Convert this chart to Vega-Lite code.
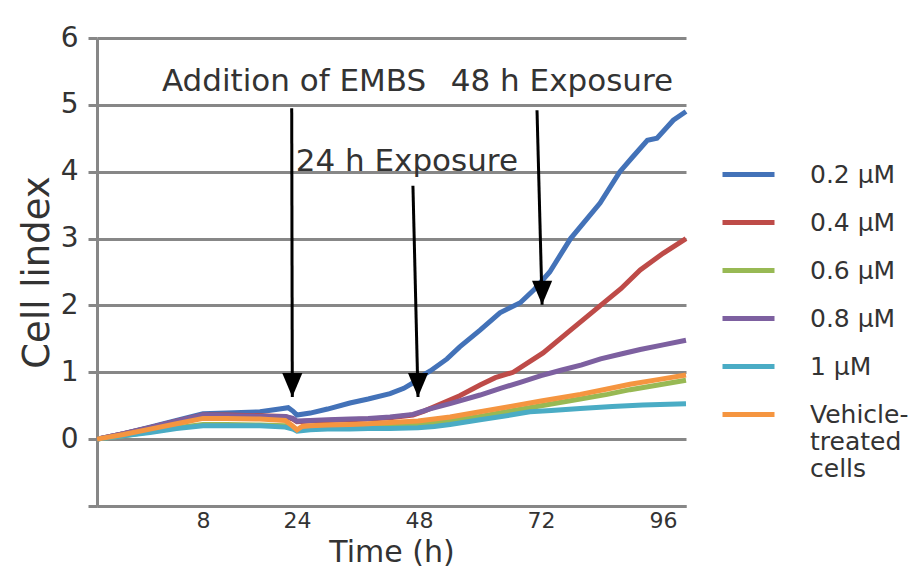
{
  "$schema": "https://vega.github.io/schema/vega-lite/v6.json",
  "width": 589,
  "height": 468,
  "autosize": {"type": "none"},
  "padding": {"left": 97, "top": 38, "right": 228, "bottom": 71},
  "background": "white",
  "config": {
    "font": "DejaVu Sans",
    "view": {"stroke": null},
    "axis": {
      "labelFont": "DejaVu Sans",
      "titleFont": "DejaVu Sans",
      "titleFontWeight": "normal",
      "labelColor": "#333333",
      "titleColor": "#333333",
      "domainColor": "#878787",
      "domainWidth": 3,
      "gridColor": "#878787",
      "gridWidth": 3,
      "gridOpacity": 1,
      "tickColor": "#878787",
      "tickWidth": 3
    }
  },
  "datasets": {
    "curves": [
      {"s": "0.2 μM", "t": 0, "v": 0}, {"s": "0.2 μM", "t": 2, "v": 0.08}, {"s": "0.2 μM", "t": 4, "v": 0.18}, {"s": "0.2 μM", "t": 6, "v": 0.28}, {"s": "0.2 μM", "t": 8, "v": 0.38}, {"s": "0.2 μM", "t": 12, "v": 0.39}, {"s": "0.2 μM", "t": 17.7, "v": 0.41}, {"s": "0.2 μM", "t": 21, "v": 0.45}, {"s": "0.2 μM", "t": 22.5, "v": 0.47}, {"s": "0.2 μM", "t": 23.3, "v": 0.42}, {"s": "0.2 μM", "t": 24, "v": 0.36}, {"s": "0.2 μM", "t": 26.6, "v": 0.39}, {"s": "0.2 μM", "t": 30, "v": 0.45}, {"s": "0.2 μM", "t": 34.4, "v": 0.54}, {"s": "0.2 μM", "t": 38, "v": 0.6}, {"s": "0.2 μM", "t": 42.3, "v": 0.68}, {"s": "0.2 μM", "t": 45, "v": 0.76}, {"s": "0.2 μM", "t": 46.8, "v": 0.84}, {"s": "0.2 μM", "t": 48.2, "v": 0.93}, {"s": "0.2 μM", "t": 50.2, "v": 1.02}, {"s": "0.2 μM", "t": 53.5, "v": 1.2}, {"s": "0.2 μM", "t": 56, "v": 1.38}, {"s": "0.2 μM", "t": 60, "v": 1.63}, {"s": "0.2 μM", "t": 63.9, "v": 1.89}, {"s": "0.2 μM", "t": 67.9, "v": 2.04}, {"s": "0.2 μM", "t": 70.8, "v": 2.25}, {"s": "0.2 μM", "t": 73.7, "v": 2.5}, {"s": "0.2 μM", "t": 77.8, "v": 3.0}, {"s": "0.2 μM", "t": 83.6, "v": 3.53}, {"s": "0.2 μM", "t": 87.5, "v": 4.0}, {"s": "0.2 μM", "t": 90, "v": 4.22}, {"s": "0.2 μM", "t": 92.9, "v": 4.47}, {"s": "0.2 μM", "t": 94.8, "v": 4.5}, {"s": "0.2 μM", "t": 98, "v": 4.77}, {"s": "0.2 μM", "t": 100.5, "v": 4.9},
      {"s": "0.4 μM", "t": 0, "v": 0}, {"s": "0.4 μM", "t": 2, "v": 0.08}, {"s": "0.4 μM", "t": 4, "v": 0.17}, {"s": "0.4 μM", "t": 6, "v": 0.27}, {"s": "0.4 μM", "t": 8, "v": 0.36}, {"s": "0.4 μM", "t": 12, "v": 0.36}, {"s": "0.4 μM", "t": 17.7, "v": 0.35}, {"s": "0.4 μM", "t": 22, "v": 0.34}, {"s": "0.4 μM", "t": 23.3, "v": 0.3}, {"s": "0.4 μM", "t": 24, "v": 0.26}, {"s": "0.4 μM", "t": 26.6, "v": 0.27}, {"s": "0.4 μM", "t": 30, "v": 0.28}, {"s": "0.4 μM", "t": 34.4, "v": 0.29}, {"s": "0.4 μM", "t": 38, "v": 0.3}, {"s": "0.4 μM", "t": 42.3, "v": 0.32}, {"s": "0.4 μM", "t": 46.8, "v": 0.36}, {"s": "0.4 μM", "t": 49, "v": 0.42}, {"s": "0.4 μM", "t": 52.1, "v": 0.52}, {"s": "0.4 μM", "t": 56, "v": 0.65}, {"s": "0.4 μM", "t": 60, "v": 0.81}, {"s": "0.4 μM", "t": 63, "v": 0.92}, {"s": "0.4 μM", "t": 66.5, "v": 1.0}, {"s": "0.4 μM", "t": 72.4, "v": 1.29}, {"s": "0.4 μM", "t": 77.8, "v": 1.63}, {"s": "0.4 μM", "t": 83.7, "v": 2.0}, {"s": "0.4 μM", "t": 87.7, "v": 2.25}, {"s": "0.4 μM", "t": 91.5, "v": 2.53}, {"s": "0.4 μM", "t": 96, "v": 2.78}, {"s": "0.4 μM", "t": 100.5, "v": 3.0},
      {"s": "0.6 μM", "t": 0, "v": 0}, {"s": "0.6 μM", "t": 2, "v": 0.05}, {"s": "0.6 μM", "t": 4, "v": 0.11}, {"s": "0.6 μM", "t": 6, "v": 0.17}, {"s": "0.6 μM", "t": 8, "v": 0.22}, {"s": "0.6 μM", "t": 12, "v": 0.22}, {"s": "0.6 μM", "t": 17.7, "v": 0.21}, {"s": "0.6 μM", "t": 22, "v": 0.2}, {"s": "0.6 μM", "t": 23.3, "v": 0.17}, {"s": "0.6 μM", "t": 24, "v": 0.14}, {"s": "0.6 μM", "t": 26.6, "v": 0.16}, {"s": "0.6 μM", "t": 30, "v": 0.17}, {"s": "0.6 μM", "t": 34.4, "v": 0.18}, {"s": "0.6 μM", "t": 38, "v": 0.19}, {"s": "0.6 μM", "t": 42.3, "v": 0.2}, {"s": "0.6 μM", "t": 47.8, "v": 0.22}, {"s": "0.6 μM", "t": 54.1, "v": 0.27}, {"s": "0.6 μM", "t": 60, "v": 0.34}, {"s": "0.6 μM", "t": 66, "v": 0.42}, {"s": "0.6 μM", "t": 72, "v": 0.5}, {"s": "0.6 μM", "t": 79.7, "v": 0.6}, {"s": "0.6 μM", "t": 85, "v": 0.67}, {"s": "0.6 μM", "t": 89.5, "v": 0.74}, {"s": "0.6 μM", "t": 95, "v": 0.81}, {"s": "0.6 μM", "t": 100.5, "v": 0.88},
      {"s": "0.8 μM", "t": 0, "v": 0}, {"s": "0.8 μM", "t": 2, "v": 0.08}, {"s": "0.8 μM", "t": 4, "v": 0.17}, {"s": "0.8 μM", "t": 6, "v": 0.27}, {"s": "0.8 μM", "t": 8, "v": 0.36}, {"s": "0.8 μM", "t": 12, "v": 0.35}, {"s": "0.8 μM", "t": 17.7, "v": 0.34}, {"s": "0.8 μM", "t": 22, "v": 0.34}, {"s": "0.8 μM", "t": 23.3, "v": 0.31}, {"s": "0.8 μM", "t": 24, "v": 0.27}, {"s": "0.8 μM", "t": 26.6, "v": 0.28}, {"s": "0.8 μM", "t": 30, "v": 0.29}, {"s": "0.8 μM", "t": 34.4, "v": 0.3}, {"s": "0.8 μM", "t": 38, "v": 0.31}, {"s": "0.8 μM", "t": 42.3, "v": 0.33}, {"s": "0.8 μM", "t": 46.8, "v": 0.37}, {"s": "0.8 μM", "t": 50, "v": 0.45}, {"s": "0.8 μM", "t": 54.1, "v": 0.53}, {"s": "0.8 μM", "t": 60, "v": 0.66}, {"s": "0.8 μM", "t": 64, "v": 0.76}, {"s": "0.8 μM", "t": 67.9, "v": 0.85}, {"s": "0.8 μM", "t": 72, "v": 0.95}, {"s": "0.8 μM", "t": 75.9, "v": 1.03}, {"s": "0.8 μM", "t": 80, "v": 1.11}, {"s": "0.8 μM", "t": 83.7, "v": 1.2}, {"s": "0.8 μM", "t": 87.5, "v": 1.27}, {"s": "0.8 μM", "t": 91.5, "v": 1.34}, {"s": "0.8 μM", "t": 96, "v": 1.41}, {"s": "0.8 μM", "t": 100.5, "v": 1.48},
      {"s": "1 μM", "t": 0, "v": 0}, {"s": "1 μM", "t": 2, "v": 0.05}, {"s": "1 μM", "t": 4, "v": 0.1}, {"s": "1 μM", "t": 6, "v": 0.16}, {"s": "1 μM", "t": 8, "v": 0.2}, {"s": "1 μM", "t": 12, "v": 0.2}, {"s": "1 μM", "t": 17.7, "v": 0.2}, {"s": "1 μM", "t": 22, "v": 0.18}, {"s": "1 μM", "t": 23.3, "v": 0.15}, {"s": "1 μM", "t": 24, "v": 0.12}, {"s": "1 μM", "t": 26.6, "v": 0.14}, {"s": "1 μM", "t": 30, "v": 0.15}, {"s": "1 μM", "t": 34.4, "v": 0.15}, {"s": "1 μM", "t": 38, "v": 0.16}, {"s": "1 μM", "t": 42.3, "v": 0.16}, {"s": "1 μM", "t": 47.8, "v": 0.17}, {"s": "1 μM", "t": 51, "v": 0.19}, {"s": "1 μM", "t": 54.1, "v": 0.22}, {"s": "1 μM", "t": 60, "v": 0.29}, {"s": "1 μM", "t": 66, "v": 0.36}, {"s": "1 μM", "t": 69.8, "v": 0.41}, {"s": "1 μM", "t": 74, "v": 0.43}, {"s": "1 μM", "t": 79.7, "v": 0.46}, {"s": "1 μM", "t": 86, "v": 0.49}, {"s": "1 μM", "t": 92, "v": 0.51}, {"s": "1 μM", "t": 100.5, "v": 0.53},
      {"s": "Vehicle-treated cells", "t": 0, "v": 0}, {"s": "Vehicle-treated cells", "t": 2, "v": 0.07}, {"s": "Vehicle-treated cells", "t": 4, "v": 0.15}, {"s": "Vehicle-treated cells", "t": 6, "v": 0.23}, {"s": "Vehicle-treated cells", "t": 8, "v": 0.31}, {"s": "Vehicle-treated cells", "t": 12, "v": 0.31}, {"s": "Vehicle-treated cells", "t": 17.7, "v": 0.3}, {"s": "Vehicle-treated cells", "t": 22, "v": 0.28}, {"s": "Vehicle-treated cells", "t": 23.2, "v": 0.2}, {"s": "Vehicle-treated cells", "t": 24, "v": 0.14}, {"s": "Vehicle-treated cells", "t": 25, "v": 0.19}, {"s": "Vehicle-treated cells", "t": 26.6, "v": 0.2}, {"s": "Vehicle-treated cells", "t": 30, "v": 0.21}, {"s": "Vehicle-treated cells", "t": 34.4, "v": 0.22}, {"s": "Vehicle-treated cells", "t": 38, "v": 0.23}, {"s": "Vehicle-treated cells", "t": 42.3, "v": 0.25}, {"s": "Vehicle-treated cells", "t": 47.8, "v": 0.27}, {"s": "Vehicle-treated cells", "t": 54.1, "v": 0.33}, {"s": "Vehicle-treated cells", "t": 60, "v": 0.41}, {"s": "Vehicle-treated cells", "t": 66, "v": 0.49}, {"s": "Vehicle-treated cells", "t": 72, "v": 0.57}, {"s": "Vehicle-treated cells", "t": 79.7, "v": 0.67}, {"s": "Vehicle-treated cells", "t": 85, "v": 0.75}, {"s": "Vehicle-treated cells", "t": 89.5, "v": 0.82}, {"s": "Vehicle-treated cells", "t": 95, "v": 0.89}, {"s": "Vehicle-treated cells", "t": 100.5, "v": 0.96}
    ],
    "arrows": [
      {"t": 23.1, "v": 4.95, "t2": 23.2, "v2": 0.63},
      {"t": 46.8, "v": 3.79, "t2": 47.8, "v2": 0.63},
      {"t": 71.2, "v": 4.92, "t2": 72.2, "v2": 2.01}
    ],
    "heads": [
      {"t": 23.2, "v": 0.63},
      {"t": 47.8, "v": 0.63},
      {"t": 72.2, "v": 2.01}
    ],
    "notes": [
      {"label": "Addition of EMBS", "t": 23.5, "v": 5.34},
      {"label": "48 h Exposure", "t": 76.1, "v": 5.34},
      {"label": "24 h Exposure", "t": 45.6, "v": 4.145}
    ]
  },
  "encoding": {
    "x": {
      "field": "t",
      "type": "quantitative",
      "scale": {"domain": [0, 8, 24, 100.5], "range": [0, 106, 200, 589], "nice": false, "zero": false},
      "axis": {
        "values": [8, 24, 48, 72, 96],
        "grid": false,
        "ticks": false,
        "labelFontSize": 22,
        "labelPadding": 4,
        "labelFlush": false,
        "labelOverlap": false,
        "title": "Time (h)",
        "titleFontSize": 30,
        "titlePadding": 6
      }
    },
    "y": {
      "field": "v",
      "type": "quantitative",
      "scale": {"domain": [-1, 6], "nice": false, "zero": false},
      "axis": {
        "values": [-1, 0, 1, 2, 3, 4, 5, 6],
        "labelExpr": "datum.value < 0 ? '' : datum.label",
        "tickSize": 9,
        "labelFontSize": 28,
        "labelPadding": 10,
        "labelFlush": false,
        "title": "Cell lindex",
        "titleFontSize": 37,
        "titlePadding": 4
      }
    }
  },
  "layer": [
    {
      "data": {"name": "curves"},
      "mark": {"type": "line", "strokeWidth": 5},
      "encoding": {
        "color": {
          "field": "s",
          "type": "nominal",
          "scale": {
            "domain": ["0.2 μM", "0.4 μM", "0.6 μM", "0.8 μM", "1 μM", "Vehicle-treated cells"],
            "range": ["#4372B8", "#BE4B48", "#98B954", "#7D60A0", "#4AACC5", "#F59540"]
          },
          "legend": {
            "title": null,
            "orient": "none",
            "legendX": 636,
            "legendY": 121,
            "padding": 0,
            "symbolType": "M-2,0L2,0",
            "symbolSize": 676,
            "symbolStrokeWidth": 5,
            "labelFont": "DejaVu Sans",
            "labelFontSize": 25,
            "labelColor": "#333333",
            "labelOffset": 46,
            "labelLimit": 300,
            "rowPadding": 19,
            "labelExpr": "datum.label == 'Vehicle-treated cells' ? ['Vehicle-', 'treated', 'cells'] : datum.label"
          }
        }
      }
    },
    {
      "data": {"name": "arrows"},
      "mark": {"type": "rule", "color": "black", "strokeWidth": 3},
      "encoding": {
        "x2": {"field": "t2"},
        "y2": {"field": "v2"}
      }
    },
    {
      "data": {"name": "heads"},
      "mark": {"type": "point", "shape": "M-0.42,-1L0.42,-1L0,0Z", "size": 2304, "filled": true, "color": "black", "opacity": 1},
      "encoding": {}
    },
    {
      "data": {"name": "notes"},
      "mark": {"type": "text", "fontSize": 31, "font": "DejaVu Sans", "color": "#333333", "align": "center", "baseline": "middle"},
      "encoding": {"text": {"field": "label"}}
    }
  ]
}
